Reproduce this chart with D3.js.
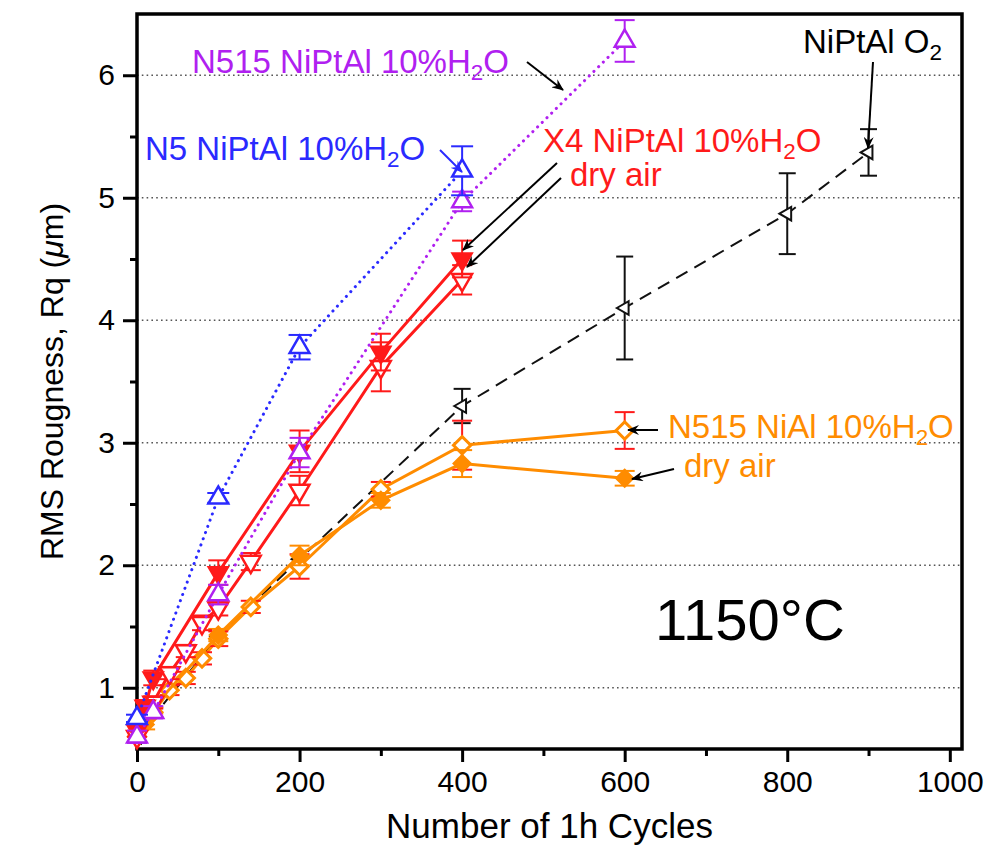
<!DOCTYPE html>
<html><head><meta charset="utf-8">
<script src="https://cdn.jsdelivr.net/npm/d3@7"></script>
<style>
body{margin:0;background:#fff}
svg{display:block;font-family:"Liberation Sans",Arial,Helvetica,sans-serif}
</style>
</head><body>
<svg id="chart" width="986" height="845"></svg>
<script>
// ---------- data ----------
const xTicks = [0, 200, 400, 600, 800, 1000];
const xMinor = [100, 300, 500, 700, 900];
const yTicks = [1, 2, 3, 4, 5, 6];
const yMinor = [1.5, 2.5, 3.5, 4.5, 5.5];

// N5 NiPtAl 10%H2O (blue, open up-triangle, dotted)
const n5X = [0, 100, 200, 400];
const n5Y = [0.75, 2.55, 3.78, 5.22];
const n5E = [0.03, 0.04, 0.1, 0.2];

// N515 NiPtAl 10%H2O (purple, open up-triangle, dotted)
const n515PtX = [0, 20, 100, 200, 400, 600];
const n515PtY = [0.6, 0.8, 1.76, 2.92, 4.97, 6.28];
const n515PtE = [0.05, 0.05, 0.08, 0.12, 0.08, 0.17];

// X4 NiPtAl 10%H2O (red, filled down-triangle)
const x4WetX = [0, 10, 20, 100, 200, 300, 400];
const x4WetY = [0.65, 0.85, 1.08, 1.94, 2.93, 3.74, 4.5];
const x4WetE = [0.05, 0.05, 0.06, 0.1, 0.17, 0.15, 0.15];

// X4 NiPtAl dry air (red, open down-triangle)
const x4DryX = [0, 20, 40, 60, 80, 100, 140, 200, 300, 400];
const x4DryY = [0.6, 0.88, 1.12, 1.3, 1.53, 1.65, 2.03, 2.61, 3.62, 4.33];
const x4DryE = [0.04, 0.05, 0.05, 0.05, 0.06, 0.06, 0.07, 0.12, 0.2, 0.12];

// N515 NiAl 10%H2O (orange, open diamond, red error bars)
const nialWetX = [0, 20, 40, 60, 80, 100, 140, 200, 300, 400, 600];
const nialWetY = [0.6, 0.8, 0.98, 1.08, 1.24, 1.4, 1.66, 1.99, 2.62, 2.98, 3.1];
const nialWetE = [0.04, 0.04, 0.04, 0.05, 0.05, 0.06, 0.05, 0.1, 0.06, 0.2, 0.15];

// N515 NiAl dry air (orange, filled diamond)
const nialDryX = [0, 10, 20, 100, 200, 300, 400, 600];
const nialDryY = [0.6, 0.7, 0.84, 1.43, 2.08, 2.53, 2.83, 2.71];
const nialDryE = [0.04, 0.04, 0.05, 0.05, 0.08, 0.06, 0.11, 0.06];

// NiPtAl O2 (black, open left-triangle, dashed)
const o2X = [0, 100, 200, 400, 600, 800, 900];
const o2Y = [0.6, 1.42, 2.05, 3.3, 4.1, 4.87, 5.37];
const o2E = [0, 0, 0, 0.14, 0.42, 0.33, 0.19];

// ---------- layout ----------
const W = 986, H = 845;
const m = {left: 137, right: 24, top: 14, bottom: 96};
const svg = d3.select("#chart");
const x = d3.scaleLinear().domain([0, 1015]).range([m.left, W - m.right]);
const y = d3.scaleLinear().domain([0.5, 6.5]).range([H - m.bottom, m.top]);

const BLUE = "#2a2aff", PURPLE = "#b020f0", RED = "#ff1a1a", ORANGE = "#ff8c00";

// grid
svg.append("g").selectAll("line").data(yTicks).join("line")
  .attr("x1", x.range()[0]).attr("x2", x.range()[1])
  .attr("y1", d => y(d)).attr("y2", d => y(d))
  .attr("stroke", "#555").attr("stroke-width", 1.6)
  .attr("stroke-dasharray", "1.6,3.2");

// axes
const fontTick = 30;
const gx = svg.append("g").attr("transform", `translate(0,${y.range()[0]})`)
  .call(d3.axisBottom(x).tickValues(xTicks).tickFormat(d3.format("d")).tickSize(13).tickPadding(9));
const gxm = svg.append("g").attr("transform", `translate(0,${y.range()[0]})`)
  .call(d3.axisBottom(x).tickValues(xMinor).tickFormat("").tickSize(7));
const gy = svg.append("g").attr("transform", `translate(${x.range()[0]},0)`)
  .call(d3.axisLeft(y).tickValues(yTicks).tickFormat(d3.format("d")).tickSize(14).tickPadding(8));
const gym = svg.append("g").attr("transform", `translate(${x.range()[0]},0)`)
  .call(d3.axisLeft(y).tickValues(yMinor).tickFormat("").tickSize(7));
[gxm, gym].forEach(g => g.selectAll("text").remove());
[gx, gxm, gy, gym].forEach(g => {
  g.select(".domain").remove();
  g.selectAll(".tick line").attr("stroke", "#000").attr("stroke-width", 3);
  g.selectAll("text").attr("font-size", fontTick).attr("fill", "#000")
    .attr("font-family", '"Liberation Sans",Arial,sans-serif');
});

// frame
svg.append("rect")
  .attr("x", x.range()[0]).attr("y", y.range()[1])
  .attr("width", x.range()[1] - x.range()[0]).attr("height", y.range()[0] - y.range()[1])
  .attr("fill", "none").attr("stroke", "#000").attr("stroke-width", 3.5);

// axis titles
svg.append("text").attr("x", (x.range()[0] + x.range()[1]) / 2).attr("y", 838)
  .attr("text-anchor", "middle").attr("font-size", 35).text("Number of 1h Cycles");
const yl = svg.append("text").attr("transform", `translate(63,${(y.range()[0] + y.range()[1]) / 2}) rotate(-90)`)
  .attr("text-anchor", "middle").attr("font-size", 32);
yl.append("tspan").text("RMS Rougness, Rq (");
yl.append("tspan").attr("font-style", "italic").text("μ");
yl.append("tspan").text("m)");

// ---------- series ----------
function zip(xs, ys, es) { return xs.map((v, i) => ({x: v, y: ys[i], e: es[i]})); }

function drawSeries(opt) {
  const pts = zip(opt.xs, opt.ys, opt.es);
  const g = svg.append("g");
  g.append("path").datum(pts)
    .attr("d", d3.line().x(d => x(d.x)).y(d => y(d.y)))
    .attr("fill", "none").attr("stroke", opt.lineColor).attr("stroke-width", opt.lineWidth)
    .attr("stroke-dasharray", opt.dash || null)
    .attr("stroke-linecap", opt.cap || "butt");
  const eb = g.append("g").selectAll("g").data(pts.filter(d => d.e > 0)).join("g")
    .attr("stroke", opt.errColor).attr("stroke-width", opt.errWidth || 2);
  eb.append("line").attr("x1", d => x(d.x)).attr("x2", d => x(d.x))
    .attr("y1", d => y(d.y - d.e)).attr("y2", d => y(d.y + d.e));
  eb.append("line").attr("x1", d => x(d.x) - opt.capW / 2).attr("x2", d => x(d.x) + opt.capW / 2)
    .attr("y1", d => y(d.y + d.e)).attr("y2", d => y(d.y + d.e));
  eb.append("line").attr("x1", d => x(d.x) - opt.capW / 2).attr("x2", d => x(d.x) + opt.capW / 2)
    .attr("y1", d => y(d.y - d.e)).attr("y2", d => y(d.y - d.e));
  g.append("g").selectAll("path").data(pts).join("path")
    .attr("d", d3.symbol().type(opt.symbol).size(opt.size))
    .attr("transform", d => `translate(${x(d.x)},${y(d.y)}) rotate(${opt.rot || 0})`)
    .attr("fill", opt.fill).attr("stroke", opt.color).attr("stroke-width", opt.strokeW || 2.5);
}

drawSeries({xs: o2X, ys: o2Y, es: o2E, lineColor: "#111", lineWidth: 2, dash: "13,8",
  errColor: "#111", capW: 17, symbol: d3.symbolTriangle, size: 80, rot: -90,
  fill: "#fff", color: "#111", strokeW: 2});
drawSeries({xs: nialWetX, ys: nialWetY, es: nialWetE, lineColor: ORANGE, lineWidth: 3,
  errColor: RED, capW: 20, symbol: d3.symbolSquare, size: 150, rot: 45,
  fill: "#fff", color: ORANGE, strokeW: 3});
drawSeries({xs: nialDryX, ys: nialDryY, es: nialDryE, lineColor: ORANGE, lineWidth: 3,
  errColor: ORANGE, capW: 20, symbol: d3.symbolSquare, size: 150, rot: 45,
  fill: ORANGE, color: ORANGE, strokeW: 2});
drawSeries({xs: x4DryX, ys: x4DryY, es: x4DryE, lineColor: RED, lineWidth: 3,
  errColor: RED, capW: 20, symbol: d3.symbolTriangle, size: 170, rot: 180,
  fill: "#fff", color: RED, strokeW: 2.5});
drawSeries({xs: x4WetX, ys: x4WetY, es: x4WetE, lineColor: RED, lineWidth: 3,
  errColor: RED, capW: 20, symbol: d3.symbolTriangle, size: 170, rot: 180,
  fill: RED, color: RED, strokeW: 2});
drawSeries({xs: n515PtX, ys: n515PtY, es: n515PtE, lineColor: PURPLE, lineWidth: 3,
  dash: "0.1,6.5", cap: "round",
  errColor: PURPLE, capW: 20, symbol: d3.symbolTriangle, size: 170,
  fill: "#fff", color: PURPLE, strokeW: 2.5});
drawSeries({xs: n5X, ys: n5Y, es: n5E, lineColor: BLUE, lineWidth: 3,
  dash: "0.1,6.5", cap: "round",
  errColor: BLUE, capW: 22, symbol: d3.symbolTriangle, size: 170,
  fill: "#fff", color: BLUE, strokeW: 2.5});

// ---------- annotations ----------
const defs = svg.append("defs");
function arrowMarker(id, color) {
  defs.append("marker").attr("id", id).attr("viewBox", "0 0 12 10")
    .attr("refX", 11).attr("refY", 5).attr("markerWidth", 12).attr("markerHeight", 10)
    .attr("markerUnits", "userSpaceOnUse").attr("orient", "auto")
    .append("path").attr("d", "M0,0 L12,5 L0,10 L4,5 Z").attr("fill", color);
}
arrowMarker("ak", "#000");
arrowMarker("ab", BLUE);

// parts: plain strings, or ["sub", text] for a subscript
function label(px, py, parts, color, size) {
  const t = svg.append("text").attr("x", px).attr("y", py).attr("fill", color).attr("font-size", size);
  let shifted = false;
  parts.forEach(p => {
    if (Array.isArray(p)) {
      t.append("tspan").attr("font-size", size * 0.68).attr("dy", size * 0.22).text(p[1]);
      shifted = true;
    } else {
      const ts = t.append("tspan").text(p);
      if (shifted) { ts.attr("dy", -size * 0.22); shifted = false; }
    }
  });
  return t;
}
function arrow(x1, y1, x2, y2, color, mk) {
  svg.append("line").attr("x1", x1).attr("y1", y1).attr("x2", x2).attr("y2", y2)
    .attr("stroke", color).attr("stroke-width", 2).attr("marker-end", `url(#${mk})`);
}

label(192, 73, ["N515 NiPtAl 10%H", ["sub", "2"], "O"], PURPLE, 33);
arrow(527, 62, 563, 90, "#000", "ak");

label(145, 160, ["N5 NiPtAl 10%H", ["sub", "2"], "O"], BLUE, 33);
arrow(440, 150, 462, 172, BLUE, "ab");

label(543, 152, ["X4 NiPtAl 10%H", ["sub", "2"], "O"], RED, 33);
label(570, 186, ["dry air"], RED, 33);
arrow(557, 163, 463, 250, "#000", "ak");
arrow(561, 178, 467, 267, "#000", "ak");

label(803, 53, ["NiPtAl O", ["sub", "2"]], "#000", 33);
arrow(873, 62, 868, 148, "#000", "ak");

label(668, 438, ["N515 NiAl 10%H", ["sub", "2"], "O"], ORANGE, 33);
arrow(658, 430, 628, 430, "#000", "ak");
label(684, 477, ["dry air"], ORANGE, 33);
arrow(674, 469, 632, 479, "#000", "ak");

svg.append("text").attr("x", 655).attr("y", 640).attr("font-size", 58).attr("fill", "#000").text("1150°C");
</script>
</body></html>
